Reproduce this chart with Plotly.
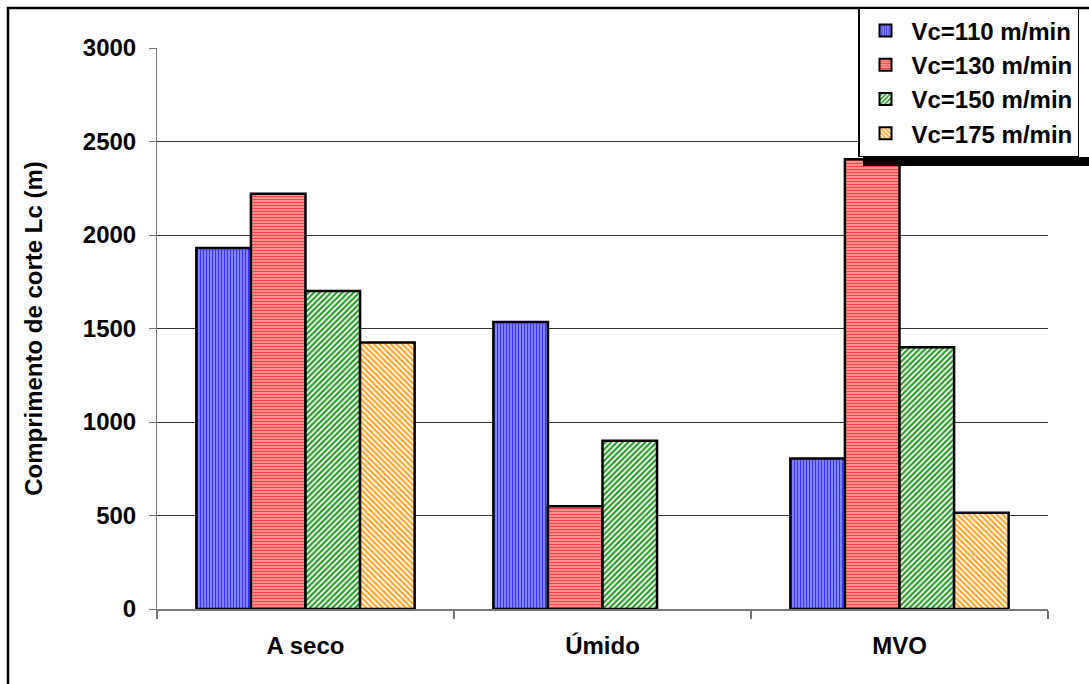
import plotly.graph_objects as go

# Cutting length per cooling condition and cutting speed
conditions = ["A seco", "Úmido", "MVO"]
series_names = ["Vc=110 m/min", "Vc=130 m/min", "Vc=150 m/min", "Vc=175 m/min"]
vc110 = [1930, 1535, 805]
vc130 = [2220, 550, 2405]
vc150 = [1700, 900, 1400]
vc175 = [1425, None, 515]   # no measurement for Úmido at 175 m/min
y_ticks = [0, 500, 1000, 1500, 2000, 2500, 3000]

values = [vc110, vc130, vc150, vc175]
styles = [
    dict(bg="#9A9AFF", fg="#3535FF", shape="|", size=3, solidity=0.5),
    dict(bg="#FFA8A8", fg="#FF4545", shape="-", size=3, solidity=0.5),
    dict(bg="#FFFFFF", fg="#2E9A2E", shape="/", size=4, solidity=0.55),
    dict(bg="#FFFFFF", fg="#FFA62E", shape="\\", size=4, solidity=0.55),
]

FONT = "Liberation Sans, Arial, sans-serif"
FS = 24

fig = go.Figure()
for name, vals, st in zip(series_names, values, styles):
    fig.add_trace(go.Bar(
        x=conditions,
        y=vals,
        name=name,
        marker=dict(
            color=st["bg"],
            line=dict(color="black", width=2.5),
            pattern=dict(shape=st["shape"], fgcolor=st["fg"], bgcolor=st["bg"],
                         size=st["size"], solidity=st["solidity"], fillmode="replace"),
        ),
    ))

W, H = 1089, 684
L, R, T, B = 157, 41, 48, 75
pw, ph = W - L - R, H - T - B

def px_x(p):
    return (p - L) / pw

def px_y(p):
    return (H - B - p) / ph

fig.update_layout(
    width=W, height=H,
    margin=dict(l=L, r=R, t=T, b=B, autoexpand=False),
    paper_bgcolor="white", plot_bgcolor="white",
    barmode="group", bargap=0.265, bargroupgap=0,
    font=dict(family=FONT, size=FS, color="black", weight="bold"),
    showlegend=True,
    legend=dict(
        x=px_x(858), y=px_y(7), xanchor="left", yanchor="top",
        bgcolor="white", bordercolor="black", borderwidth=1.5,
        font=dict(family=FONT, size=FS, color="black", weight="bold"),
        tracegroupgap=0, itemsizing="constant", itemwidth=42,
    ),
    xaxis=dict(
        type="category", tickson="boundaries", ticks="outside", ticklen=8,
        tickcolor="#777777", tickwidth=2,
        showline=True, linecolor="#777777", linewidth=2,
        showgrid=False, tickfont=dict(size=FS), ticklabelstandoff=14,
    ),
    yaxis=dict(
        range=[0, 3000], tickvals=y_ticks, ticks="outside", ticklen=7,
        tickcolor="#777777", tickwidth=1,
        showline=True, linecolor="#777777", linewidth=1,
        showgrid=True, gridcolor="#333333", gridwidth=1,
        zeroline=False, tickfont=dict(size=FS), ticklabelstandoff=8,
        title=dict(text="Comprimento de corte Lc (m)", font=dict(size=FS), standoff=33),
    ),
    shapes=[
        # outer chart frame (top and left edges visible)
        dict(type="rect", xref="paper", yref="paper",
             x0=px_x(8), x1=px_x(W + 20), y0=px_y(H + 20), y1=px_y(8),
             line=dict(color="black", width=2.5), fillcolor="rgba(0,0,0,0)", layer="below"),
        # legend drop shadow
        dict(type="rect", xref="paper", yref="paper",
             x0=px_x(863), x1=px_x(W + 5), y0=px_y(166), y1=px_y(157),
             line=dict(width=0), fillcolor="black", layer="above"),
    ],
)

fig.write_html("out.html")
